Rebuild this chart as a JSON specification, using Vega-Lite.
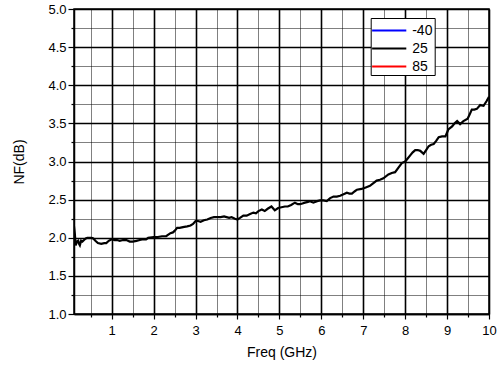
{
  "$schema": "https://vega.github.io/schema/vega-lite/v6.json",
  "width": 415,
  "height": 305,
  "autosize": "none",
  "padding": {"left": 74, "top": 9, "right": 8, "bottom": 56},
  "background": "white",
  "config": {
    "font": "Liberation Sans",
    "view": {"stroke": "black", "strokeWidth": 1.5},
    "axis": {
      "domainColor": "black",
      "domainWidth": 1.5,
      "tickColor": "black",
      "tickWidth": 1.2,
      "labelColor": "black",
      "labelFontSize": 13,
      "titleColor": "black",
      "titleFontSize": 14,
      "titleFontWeight": "normal",
      "gridColor": "black",
      "gridOpacity": 1
    }
  },
  "data": {
    "values": [
      {"freq": 0.09, "nf": 2.2, "temp": "25"},
      {"freq": 0.12, "nf": 2.05, "temp": "25"},
      {"freq": 0.14, "nf": 1.9, "temp": "25"},
      {"freq": 0.17, "nf": 1.95, "temp": "25"},
      {"freq": 0.2, "nf": 1.96, "temp": "25"},
      {"freq": 0.22, "nf": 1.92, "temp": "25"},
      {"freq": 0.24, "nf": 1.9, "temp": "25"},
      {"freq": 0.27, "nf": 1.96, "temp": "25"},
      {"freq": 0.3, "nf": 1.95, "temp": "25"},
      {"freq": 0.34, "nf": 1.97, "temp": "25"},
      {"freq": 0.38, "nf": 1.99, "temp": "25"},
      {"freq": 0.42, "nf": 2.0, "temp": "25"},
      {"freq": 0.47, "nf": 2.0, "temp": "25"},
      {"freq": 0.52, "nf": 2.0, "temp": "25"},
      {"freq": 0.56, "nf": 1.99, "temp": "25"},
      {"freq": 0.61, "nf": 1.96, "temp": "25"},
      {"freq": 0.67, "nf": 1.93, "temp": "25"},
      {"freq": 0.75, "nf": 1.92, "temp": "25"},
      {"freq": 0.82, "nf": 1.93, "temp": "25"},
      {"freq": 0.87, "nf": 1.93, "temp": "25"},
      {"freq": 0.93, "nf": 1.96, "temp": "25"},
      {"freq": 1.0, "nf": 1.98, "temp": "25"},
      {"freq": 1.07, "nf": 1.97, "temp": "25"},
      {"freq": 1.13, "nf": 1.97, "temp": "25"},
      {"freq": 1.19, "nf": 1.96, "temp": "25"},
      {"freq": 1.27, "nf": 1.97, "temp": "25"},
      {"freq": 1.35, "nf": 1.97, "temp": "25"},
      {"freq": 1.43, "nf": 1.95, "temp": "25"},
      {"freq": 1.5, "nf": 1.95, "temp": "25"},
      {"freq": 1.59, "nf": 1.96, "temp": "25"},
      {"freq": 1.67, "nf": 1.97, "temp": "25"},
      {"freq": 1.75, "nf": 1.98, "temp": "25"},
      {"freq": 1.82, "nf": 1.98, "temp": "25"},
      {"freq": 1.87, "nf": 2.0, "temp": "25"},
      {"freq": 2.0, "nf": 2.01, "temp": "25"},
      {"freq": 2.1, "nf": 2.01, "temp": "25"},
      {"freq": 2.2, "nf": 2.02, "temp": "25"},
      {"freq": 2.3, "nf": 2.02, "temp": "25"},
      {"freq": 2.35, "nf": 2.04, "temp": "25"},
      {"freq": 2.4, "nf": 2.06, "temp": "25"},
      {"freq": 2.46, "nf": 2.07, "temp": "25"},
      {"freq": 2.5, "nf": 2.09, "temp": "25"},
      {"freq": 2.56, "nf": 2.13, "temp": "25"},
      {"freq": 2.62, "nf": 2.13, "temp": "25"},
      {"freq": 2.7, "nf": 2.14, "temp": "25"},
      {"freq": 2.8, "nf": 2.15, "temp": "25"},
      {"freq": 2.88, "nf": 2.16, "temp": "25"},
      {"freq": 2.94, "nf": 2.18, "temp": "25"},
      {"freq": 3.0, "nf": 2.22, "temp": "25"},
      {"freq": 3.06, "nf": 2.22, "temp": "25"},
      {"freq": 3.12, "nf": 2.21, "temp": "25"},
      {"freq": 3.2, "nf": 2.23, "temp": "25"},
      {"freq": 3.28, "nf": 2.24, "temp": "25"},
      {"freq": 3.36, "nf": 2.26, "temp": "25"},
      {"freq": 3.44, "nf": 2.27, "temp": "25"},
      {"freq": 3.52, "nf": 2.27, "temp": "25"},
      {"freq": 3.6, "nf": 2.27, "temp": "25"},
      {"freq": 3.68, "nf": 2.28, "temp": "25"},
      {"freq": 3.74, "nf": 2.27, "temp": "25"},
      {"freq": 3.8, "nf": 2.26, "temp": "25"},
      {"freq": 3.86, "nf": 2.27, "temp": "25"},
      {"freq": 3.94, "nf": 2.25, "temp": "25"},
      {"freq": 4.0, "nf": 2.24, "temp": "25"},
      {"freq": 4.06, "nf": 2.26, "temp": "25"},
      {"freq": 4.14, "nf": 2.29, "temp": "25"},
      {"freq": 4.22, "nf": 2.29, "temp": "25"},
      {"freq": 4.3, "nf": 2.31, "temp": "25"},
      {"freq": 4.38, "nf": 2.33, "temp": "25"},
      {"freq": 4.44, "nf": 2.32, "temp": "25"},
      {"freq": 4.5, "nf": 2.35, "temp": "25"},
      {"freq": 4.58, "nf": 2.37, "temp": "25"},
      {"freq": 4.65, "nf": 2.35, "temp": "25"},
      {"freq": 4.72, "nf": 2.38, "temp": "25"},
      {"freq": 4.81, "nf": 2.41, "temp": "25"},
      {"freq": 4.89, "nf": 2.36, "temp": "25"},
      {"freq": 4.97, "nf": 2.39, "temp": "25"},
      {"freq": 5.05, "nf": 2.4, "temp": "25"},
      {"freq": 5.13, "nf": 2.41, "temp": "25"},
      {"freq": 5.2, "nf": 2.41, "temp": "25"},
      {"freq": 5.28, "nf": 2.43, "temp": "25"},
      {"freq": 5.37, "nf": 2.46, "temp": "25"},
      {"freq": 5.44, "nf": 2.44, "temp": "25"},
      {"freq": 5.49, "nf": 2.44, "temp": "25"},
      {"freq": 5.55, "nf": 2.45, "temp": "25"},
      {"freq": 5.61, "nf": 2.46, "temp": "25"},
      {"freq": 5.68, "nf": 2.47, "temp": "25"},
      {"freq": 5.73, "nf": 2.48, "temp": "25"},
      {"freq": 5.81, "nf": 2.46, "temp": "25"},
      {"freq": 5.9, "nf": 2.48, "temp": "25"},
      {"freq": 5.97, "nf": 2.49, "temp": "25"},
      {"freq": 6.05, "nf": 2.49, "temp": "25"},
      {"freq": 6.13, "nf": 2.48, "temp": "25"},
      {"freq": 6.21, "nf": 2.52, "temp": "25"},
      {"freq": 6.29, "nf": 2.54, "temp": "25"},
      {"freq": 6.37, "nf": 2.54, "temp": "25"},
      {"freq": 6.45, "nf": 2.55, "temp": "25"},
      {"freq": 6.53, "nf": 2.57, "temp": "25"},
      {"freq": 6.61, "nf": 2.59, "temp": "25"},
      {"freq": 6.67, "nf": 2.58, "temp": "25"},
      {"freq": 6.73, "nf": 2.58, "temp": "25"},
      {"freq": 6.8, "nf": 2.61, "temp": "25"},
      {"freq": 6.85, "nf": 2.63, "temp": "25"},
      {"freq": 6.96, "nf": 2.64, "temp": "25"},
      {"freq": 7.06, "nf": 2.66, "temp": "25"},
      {"freq": 7.16, "nf": 2.68, "temp": "25"},
      {"freq": 7.25, "nf": 2.72, "temp": "25"},
      {"freq": 7.32, "nf": 2.75, "temp": "25"},
      {"freq": 7.4, "nf": 2.76, "temp": "25"},
      {"freq": 7.48, "nf": 2.78, "temp": "25"},
      {"freq": 7.6, "nf": 2.83, "temp": "25"},
      {"freq": 7.68, "nf": 2.85, "temp": "25"},
      {"freq": 7.76, "nf": 2.86, "temp": "25"},
      {"freq": 7.84, "nf": 2.92, "temp": "25"},
      {"freq": 7.92, "nf": 2.98, "temp": "25"},
      {"freq": 8.0, "nf": 3.0, "temp": "25"},
      {"freq": 8.06, "nf": 3.04, "temp": "25"},
      {"freq": 8.12, "nf": 3.08, "temp": "25"},
      {"freq": 8.18, "nf": 3.12, "temp": "25"},
      {"freq": 8.24, "nf": 3.15, "temp": "25"},
      {"freq": 8.3, "nf": 3.15, "temp": "25"},
      {"freq": 8.36, "nf": 3.14, "temp": "25"},
      {"freq": 8.44, "nf": 3.1, "temp": "25"},
      {"freq": 8.5, "nf": 3.15, "temp": "25"},
      {"freq": 8.56, "nf": 3.2, "temp": "25"},
      {"freq": 8.62, "nf": 3.22, "temp": "25"},
      {"freq": 8.68, "nf": 3.23, "temp": "25"},
      {"freq": 8.74, "nf": 3.27, "temp": "25"},
      {"freq": 8.8, "nf": 3.32, "temp": "25"},
      {"freq": 8.88, "nf": 3.33, "temp": "25"},
      {"freq": 8.96, "nf": 3.33, "temp": "25"},
      {"freq": 9.03, "nf": 3.42, "temp": "25"},
      {"freq": 9.12, "nf": 3.46, "temp": "25"},
      {"freq": 9.18, "nf": 3.5, "temp": "25"},
      {"freq": 9.24, "nf": 3.53, "temp": "25"},
      {"freq": 9.31, "nf": 3.49, "temp": "25"},
      {"freq": 9.39, "nf": 3.53, "temp": "25"},
      {"freq": 9.49, "nf": 3.56, "temp": "25"},
      {"freq": 9.54, "nf": 3.62, "temp": "25"},
      {"freq": 9.59, "nf": 3.68, "temp": "25"},
      {"freq": 9.65, "nf": 3.68, "temp": "25"},
      {"freq": 9.71, "nf": 3.69, "temp": "25"},
      {"freq": 9.79, "nf": 3.74, "temp": "25"},
      {"freq": 9.87, "nf": 3.73, "temp": "25"},
      {"freq": 9.94, "nf": 3.79, "temp": "25"},
      {"freq": 10.0, "nf": 3.85, "temp": "25"}
    ]
  },
  "mark": {"type": "line", "strokeWidth": 2.2, "clip": true},
  "encoding": {
    "x": {
      "field": "freq",
      "type": "quantitative",
      "title": "Freq (GHz)",
      "scale": {"domain": [0.1, 10], "nice": false, "zero": false},
      "axis": {
        "values": [0.5, 1, 1.5, 2, 2.5, 3, 3.5, 4, 4.5, 5, 5.5, 6, 6.5, 7, 7.5, 8, 8.5, 9, 9.5, 10],
        "labelExpr": "datum.value % 1 === 0 ? format(datum.value, 'd') : ''",
        "labelPadding": 5,
        "labelFlush": false,
        "titlePadding": 8,
        "tickSize": {"condition": {"test": "datum.value % 1 !== 0", "value": 3}, "value": 5},
        "grid": true,
        "gridDash": {"condition": {"test": "datum.value % 1 !== 0", "value": [1, 1]}, "value": []},
        "gridWidth": {"condition": {"test": "datum.value % 1 !== 0", "value": 1}, "value": 1.6}
      }
    },
    "y": {
      "field": "nf",
      "type": "quantitative",
      "title": "NF(dB)",
      "scale": {"domain": [1, 5], "nice": false, "zero": false},
      "axis": {
        "values": [1, 1.25, 1.5, 1.75, 2, 2.25, 2.5, 2.75, 3, 3.25, 3.5, 3.75, 4, 4.25, 4.5, 4.75, 5],
        "labelExpr": "(datum.value * 2) % 1 === 0 ? format(datum.value, '.1f') : ''",
        "labelPadding": 2,
        "labelFlush": false,
        "titlePadding": 21,
        "tickSize": {"condition": {"test": "(datum.value * 2) % 1 !== 0", "value": 3}, "value": 6},
        "grid": true,
        "gridDash": {"condition": {"test": "(datum.value * 2) % 1 !== 0", "value": [1, 1]}, "value": []},
        "gridWidth": {"condition": {"test": "(datum.value * 2) % 1 !== 0", "value": 1}, "value": 1.6}
      }
    },
    "color": {
      "field": "temp",
      "type": "nominal",
      "scale": {"domain": ["-40", "25", "85"], "range": ["#0000ff", "#000000", "#ff0000"]},
      "legend": {
        "title": null,
        "orient": "none",
        "legendX": 296.7,
        "legendY": 9,
        "symbolType": "M-1.8,0H1.8",
        "symbolSize": 361,
        "symbolStrokeWidth": 2.2,
        "symbolOffset": 6,
        "labelFontSize": 14,
        "labelColor": "black",
        "labelOffset": 12,
        "rowPadding": -0.5,
        "padding": 1.5,
        "strokeColor": "black",
        "fillColor": "white"
      }
    }
  }
}
